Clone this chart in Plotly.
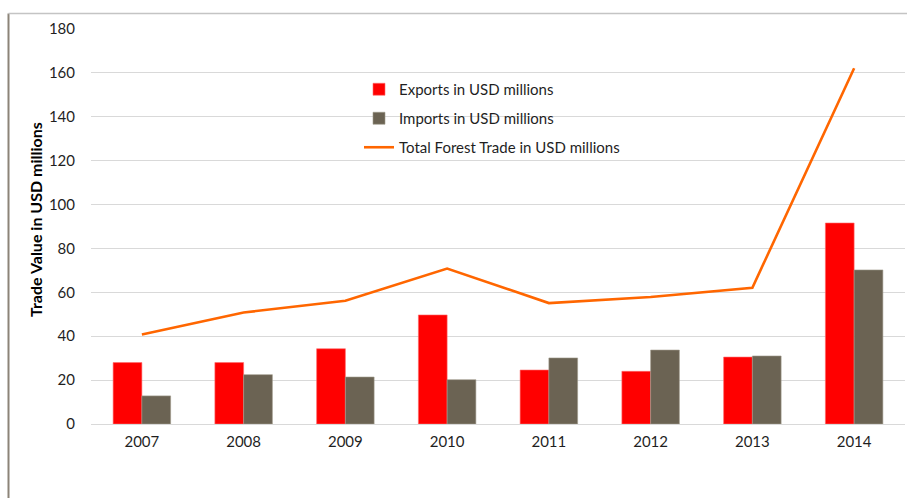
import plotly.graph_objects as go

# Annual forest product trade, USD millions
years = ["2007", "2008", "2009", "2010", "2011", "2012", "2013", "2014"]
exports = [28.0, 28.0, 34.3, 49.7, 24.6, 24.0, 30.5, 91.6]
imports = [12.8, 22.5, 21.4, 20.2, 30.1, 33.7, 31.0, 70.2]
total_trade = [40.8, 50.8, 56.2, 70.8, 55.1, 57.9, 62.1, 162.1]

FONT = "Lato, 'Open Sans', sans-serif"

fig = go.Figure()
fig.add_trace(go.Bar(
    x=years, y=exports, name="Exports in USD millions",
    marker=dict(color="#FF0000", line=dict(color="#FF6B6B", width=0.6)),
    legendgroup="a",
))
fig.add_trace(go.Bar(
    x=years, y=imports, name="Imports in USD millions",
    marker=dict(color="#6B6353", line=dict(color="#A09A8C", width=0.6)),
    legendgroup="b",
))
fig.add_trace(go.Scatter(
    x=years, y=total_trade, name="Total Forest Trade in USD millions",
    mode="lines", line=dict(color="#FF6600", width=2.6),
    legendgroup="c",
))

W, H = 907, 498
ml, mr, mt, mb = 91, 2, 29, 74
pw = W - ml - mr
ph = H - mt - mb


def px_x(x):
    return (x - ml) / pw


def px_y(y):
    return (H - mb - y) / ph


fig.update_layout(
    width=W, height=H,
    margin=dict(l=ml, r=mr, t=mt, b=mb, pad=0),
    paper_bgcolor="white", plot_bgcolor="white",
    font=dict(family=FONT, size=15, color="#1F1F1F"),
    barmode="group", bargap=0.435, bargroupgap=0,
    showlegend=True,
    legend=dict(
        x=px_x(359), y=px_y(73),
        xanchor="left", yanchor="top",
        bgcolor="rgba(0,0,0,0)",
        traceorder="grouped", tracegroupgap=6.5,
        itemwidth=30,
        font=dict(family=FONT, size=15, color="#1F1F1F"),
    ),
    xaxis=dict(
        showgrid=False, showline=False, ticks="",
        tickfont=dict(family=FONT, size=15, color="#1F1F1F"),
        ticklabelstandoff=7,
    ),
    yaxis=dict(
        range=[0, 180], dtick=20,
        showgrid=True, gridcolor="#D9D9D9", gridwidth=1.3,
        zeroline=True, zerolinecolor="#D9D9D9", zerolinewidth=1.3,
        showline=False, ticks="",
        tickfont=dict(family=FONT, size=15, color="#1F1F1F"),
        ticklabelstandoff=15,
    ),
    annotations=[
        dict(text="<b>Trade Value in USD millions</b>",
             xref="paper", yref="paper", x=px_x(35), y=px_y(220),
             xanchor="center", yanchor="middle", textangle=-90,
             showarrow=False,
             font=dict(family=FONT, size=16, color="#000000")),
    ],
    shapes=[
        # frame edges around the chart
        dict(type="line", xref="paper", yref="paper",
             x0=px_x(8.5), x1=px_x(8.5), y0=px_y(13.5), y1=px_y(H),
             line=dict(color="#8C8478", width=2)),
        dict(type="line", xref="paper", yref="paper",
             x0=px_x(8.5), x1=px_x(W), y0=px_y(13.5), y1=px_y(13.5),
             line=dict(color="#C4C4C4", width=1.5)),
    ],
)

fig.write_html("out.html")
